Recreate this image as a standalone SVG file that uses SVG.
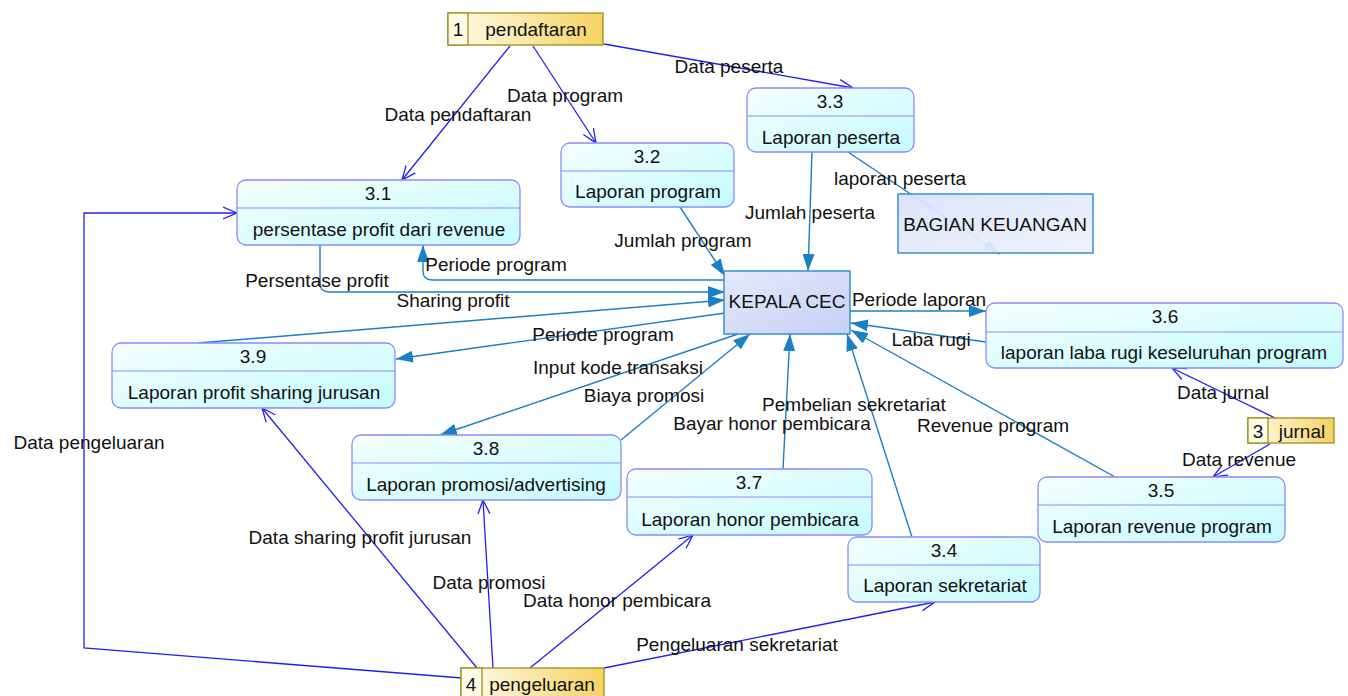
<svg xmlns="http://www.w3.org/2000/svg" width="1348" height="696" viewBox="0 0 1348 696">
<style>
text{font-family:"Liberation Sans",Arial,sans-serif;font-size:19px;fill:#111;}
.m{text-anchor:middle;}
.proc{fill:url(#gp);stroke:#8a8aff;stroke-width:1.3;}
.div{stroke:#8a8aff;stroke-width:1.2;}
.store{fill:url(#gs);stroke:#9a8f1a;stroke-width:1.3;}
.num{fill:#fffbe6;stroke:#9a8f1a;stroke-width:1.3;}
.t{fill:none;stroke:#1b7fc4;stroke-width:1.4;marker-end:url(#af);}
.b{fill:none;stroke:#2020f0;stroke-width:1.3;marker-end:url(#ao);}
.ext{stroke:#2a8ad0;stroke-width:1.4;}
</style>
<defs>
<linearGradient id="gp" x1="0" y1="0" x2="1" y2="1"><stop offset="0" stop-color="#f6ffff"/><stop offset="1" stop-color="#c4fbff"/></linearGradient>
<linearGradient id="gs" x1="0" y1="0" x2="1" y2="0"><stop offset="0" stop-color="#fffcee"/><stop offset="1" stop-color="#f5d262"/></linearGradient>
<linearGradient id="gk" x1="0" y1="0" x2="1" y2="1"><stop offset="0" stop-color="#e4eafb"/><stop offset="1" stop-color="#c6d0f4"/></linearGradient>
<linearGradient id="gb" x1="0" y1="0" x2="1" y2="1"><stop offset="0" stop-color="#d8e2fa"/><stop offset="1" stop-color="#eef2fb"/></linearGradient>
<marker id="af" markerUnits="userSpaceOnUse" markerWidth="18" markerHeight="12" refX="17" refY="6" orient="auto"><path d="M0,0 L17,6 L0,12 Z" fill="#1b7fc4"/></marker>
<marker id="ao" markerUnits="userSpaceOnUse" markerWidth="16" markerHeight="14" refX="14" refY="7" orient="auto"><path d="M0,1 L14,7 L0,13" fill="none" stroke="#2020f0" stroke-width="1.3"/></marker>
</defs>

<g id="connectors">
<path class="b" d="M510,46 L402,180"/>
<path class="b" d="M533,46 L596,143"/>
<path class="b" d="M604,44 L853,88"/>
<path class="t" d="M848,152 L1000,254"/>
<path class="t" d="M812,152 L808,271"/>
<path class="t" d="M680,207 L725,276"/>
<path class="t" d="M725,280 H432 Q423,280 423,271 V245"/>
<path class="t" d="M320,245 V283 Q320,292 329,292 H725"/>
<path class="t" d="M198,343 L725,300"/>
<path class="t" d="M725,313 L396,359"/>
<path class="t" d="M738,334 L440,435"/>
<path class="t" d="M621,440 L750,334"/>
<path class="t" d="M783,469 L790,334"/>
<path class="t" d="M912,537 L847,334"/>
<path class="t" d="M1115,477 L851,330"/>
<path class="t" d="M850,311 L986,311"/>
<path class="t" d="M986,342 L851,323"/>
<path class="b" d="M1275,418 L1172,368"/>
<path class="b" d="M1270,444 L1213,477"/>
<path class="b" d="M462,678 L84,648 L84,213 L237,213"/>
<path class="b" d="M477,668 L262,408"/>
<path class="b" d="M493,668 L483,500"/>
<path class="b" d="M530,668 L693,535"/>
<path class="b" d="M604,668 L935,602"/>
<text class="m" x="458" y="121">Data pendaftaran</text>
<text class="m" x="565" y="102">Data program</text>
<text class="m" x="729" y="73">Data peserta</text>
<text class="m" x="900" y="185">laporan peserta</text>
<text class="m" x="810" y="219">Jumlah peserta</text>
<text class="m" x="683" y="247">Jumlah program</text>
<text class="m" x="496" y="271">Periode program</text>
<text class="m" x="317" y="287">Persentase profit</text>
<text class="m" x="453" y="307">Sharing profit</text>
<text class="m" x="603" y="341">Periode program</text>
<text class="m" x="618" y="374">Input kode transaksi</text>
<text class="m" x="644" y="402">Biaya promosi</text>
<text class="m" x="854" y="411">Pembelian sekretariat</text>
<text class="m" x="772" y="430">Bayar honor pembicara</text>
<text class="m" x="993" y="432">Revenue program</text>
<text class="m" x="919" y="306">Periode laporan</text>
<text class="m" x="931" y="346">Laba rugi</text>
<text class="m" x="1223" y="399">Data jurnal</text>
<text class="m" x="1239" y="466">Data revenue</text>
<text class="m" x="89" y="449">Data pengeluaran</text>
<text class="m" x="360" y="544">Data sharing profit jurusan</text>
<text class="m" x="489" y="589">Data promosi</text>
<text class="m" x="617" y="607">Data honor pembicara</text>
<text class="m" x="737" y="651">Pengeluaran sekretariat</text>
</g>

<g id="store1">
<rect class="store" x="448" y="13" width="155" height="32"/>
<rect class="num" x="448" y="13" width="20" height="32"/>
<text class="m" x="458" y="36">1</text>
<text class="m" x="536" y="36">pendaftaran</text>
</g>
<g id="store3">
<rect class="store" x="1248" y="418" width="86" height="25"/>
<rect class="num" x="1248" y="418" width="20" height="25"/>
<text class="m" x="1258" y="438">3</text>
<text class="m" x="1302" y="438">jurnal</text>
</g>
<g id="store4">
<rect class="store" x="461" y="668" width="143" height="32"/>
<rect class="num" x="461" y="668" width="21" height="32"/>
<text class="m" x="471" y="691">4</text>
<text class="m" x="542" y="691">pengeluaran</text>
</g>

<g id="p31">
<rect class="proc" x="237" y="180" width="283" height="65" rx="9"/>
<line class="div" x1="237" y1="208" x2="520" y2="208"/>
<text class="m" x="378" y="200">3.1</text>
<text class="m" x="379" y="236">persentase profit dari revenue</text>
</g>
<g id="p32">
<rect class="proc" x="561" y="143" width="173" height="64" rx="9"/>
<line class="div" x1="561" y1="171" x2="734" y2="171"/>
<text class="m" x="647" y="163">3.2</text>
<text class="m" x="648" y="198">Laporan program</text>
</g>
<g id="p33">
<rect class="proc" x="747" y="88" width="167" height="64" rx="9"/>
<line class="div" x1="747" y1="116" x2="914" y2="116"/>
<text class="m" x="830" y="108">3.3</text>
<text class="m" x="831" y="144">Laporan peserta</text>
</g>
<g id="kepala">
<rect x="724" y="271" width="126" height="63" fill="url(#gk)" class="ext"/>
<text class="m" x="787" y="308">KEPALA CEC</text>
</g>
<g id="keuangan">
<rect x="898" y="194" width="195" height="59" fill="url(#gb)" fill-opacity="0.93" class="ext"/>
<text class="m" x="995" y="231">BAGIAN KEUANGAN</text>
</g>
<g id="p36">
<rect class="proc" x="986" y="303" width="357" height="65" rx="9"/>
<line class="div" x1="986" y1="332" x2="1343" y2="332"/>
<text class="m" x="1165" y="323">3.6</text>
<text class="m" x="1164" y="359">laporan laba rugi keseluruhan program</text>
</g>
<g id="p39">
<rect class="proc" x="112" y="343" width="283" height="65" rx="9"/>
<line class="div" x1="112" y1="371" x2="395" y2="371"/>
<text class="m" x="253" y="363">3.9</text>
<text class="m" x="254" y="399">Laporan profit sharing jurusan</text>
</g>
<g id="p38">
<rect class="proc" x="352" y="435" width="269" height="65" rx="9"/>
<line class="div" x1="352" y1="463" x2="621" y2="463"/>
<text class="m" x="486" y="455">3.8</text>
<text class="m" x="486" y="491">Laporan promosi/advertising</text>
</g>
<g id="p37">
<rect class="proc" x="627" y="469" width="245" height="66" rx="9"/>
<line class="div" x1="627" y1="497" x2="872" y2="497"/>
<text class="m" x="749" y="489">3.7</text>
<text class="m" x="750" y="526">Laporan honor pembicara</text>
</g>
<g id="p34">
<rect class="proc" x="848" y="537" width="192" height="65" rx="9"/>
<line class="div" x1="848" y1="565" x2="1040" y2="565"/>
<text class="m" x="944" y="557">3.4</text>
<text class="m" x="945" y="592">Laporan sekretariat</text>
</g>
<g id="p35">
<rect class="proc" x="1038" y="477" width="247" height="65" rx="9"/>
<line class="div" x1="1038" y1="505" x2="1285" y2="505"/>
<text class="m" x="1161" y="497">3.5</text>
<text class="m" x="1162" y="533">Laporan revenue program</text>
</g>
</svg>
